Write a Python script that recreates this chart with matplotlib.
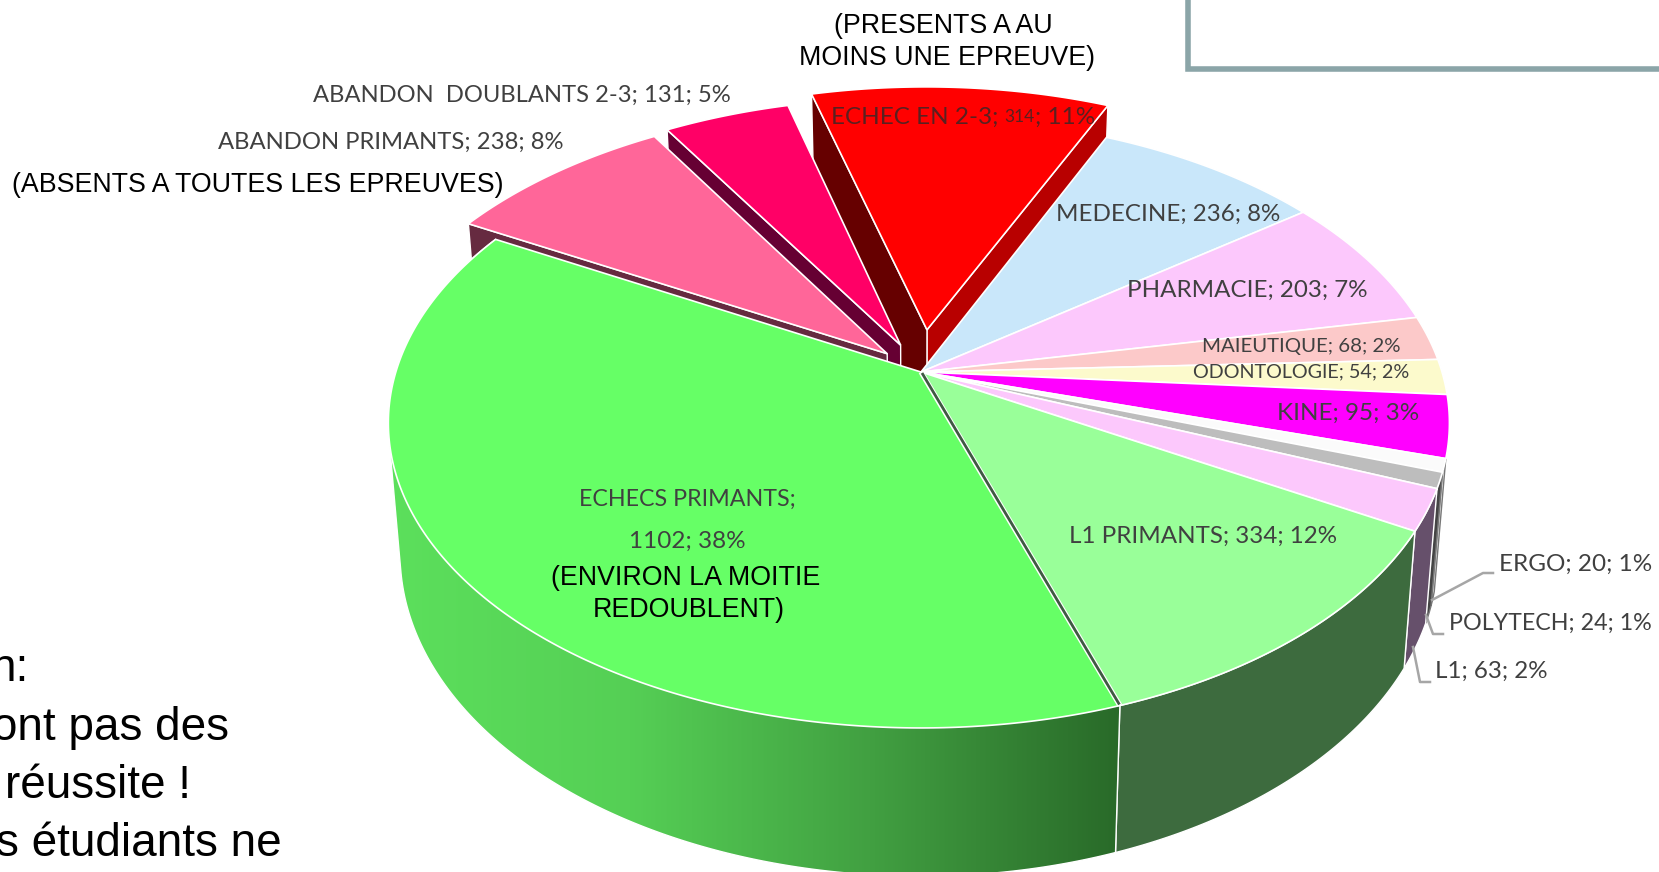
from __future__ import annotations

import matplotlib
import numpy as np
from matplotlib.colors import LinearSegmentedColormap
from matplotlib.patches import Polygon, Rectangle

matplotlib.use("Agg")
import matplotlib.pyplot as plt

# clockwise from the top-left edge of the red slice
NAMES = [
    "ECHEC EN 2-3", "MEDECINE", "PHARMACIE", "MAIEUTIQUE", "ODONTOLOGIE", "KINE", "ERGO",
    "POLYTECH", "L1", "L1 PRIMANTS", "ECHECS PRIMANTS", "ABANDON PRIMANTS", "ABANDON  DOUBLANTS 2-3",
]
VALUES = [314, 236, 203, 68, 54, 95, 20, 24, 63, 334, 1102, 238, 131]
PERCENTS = [11, 8, 7, 2, 2, 3, 1, 1, 2, 12, 38, 8, 5]
EXPLODE = [0.146, 0, 0, 0, 0, 0, 0, 0, 0, 0, 0, 0.09, 0.10]

TOP_COLORS = [
    "#ff0000", "#c9e7fa", "#fcc8fc", "#fcc9c9", "#fcfacc", "#ff00ff", "#fbfbfb",
    "#bdbdbd", "#fcc8fc", "#99ff99", "#66ff66", "#ff6699", "#ff0066",
]
WALL_COLORS = [
    "#b80000", "#c9e7fa", "#fcc8fc", "#fcc9c9", "#fcfacc", "#ff00ff", "#e8e8e8",
    "#444444", "#66506b", "#3d6b3e", "#3d6b3e", "#662a40", "#660033",
]
RED_LEFT_WALL = "#660000"

# pie geometry, in pixels of the reference
CX, CY, RX, RY, PERSP = 921.0, 372.0, 521.0, 296.5, 0.167
LEFT_STRETCH = 1.008
START_DEG = -15.0
WALL_X_SCALE, WALL_BASE, WALL_SLOPE = 0.978, 128.0, 0.057

NARROW = ["Lato", "Liberation Sans"]
ARIAL = ["Liberation Sans"]


def project(wx, wy):
    w = 1.0 + PERSP * wy
    stretch = np.where(np.asarray(wx) < 0, LEFT_STRETCH, 1.0)
    return CX + RX * stretch * wx / w, CY - RY * wy / w


def drop(x, y):
    return CX + WALL_X_SCALE * (x - CX), y + WALL_BASE + WALL_SLOPE * (y - CY)


def wedge_world(a0, a1, explode):
    mid = np.radians((a0 + a1) / 2)
    angles = np.radians(np.linspace(a0, a1, max(int(a1 - a0) * 2, 8)))
    ox, oy = explode * np.sin(mid), explode * np.cos(mid)
    return np.sin(angles) + ox, np.cos(angles) + oy, ox, oy


def convex_hull(pts):
    pts = sorted(map(tuple, pts))

    def half(seq):
        out = []
        for p in seq:
            while len(out) > 1 and (out[-1][0] - out[-2][0]) * (p[1] - out[-2][1]) - (out[-1][1] - out[-2][1]) * (p[0] - out[-2][0]) <= 0:
                out.pop()
            out.append(p)
        return out[:-1]

    return np.array(half(pts) + half(pts[::-1]))


def add_wall(ax, xs, ys, color, z, edge="white", hull=False):
    xb, yb = drop(xs, ys)
    pts = np.column_stack([np.r_[xs, xb[::-1]], np.r_[ys, yb[::-1]]])
    if hull:
        pts = convex_hull(pts)
    patch = Polygon(pts, closed=True, facecolor=color, edgecolor=edge, linewidth=1.0, zorder=z)
    ax.add_patch(patch)
    return patch


def draw_slice(ax, i, a0, a1, z):
    ex = EXPLODE[i]
    wx, wy, ox, oy = wedge_world(a0, a1, ex)
    x, y = project(wx, wy)
    ax_, ay_ = project(ox, oy)
    if ex > 0:
        # only the radial walls that face the viewer
        lx, ly = np.array([ax_, x[0]]), np.array([ay_, y[0]])
        rx, ry = np.array([ax_, x[-1]]), np.array([ay_, y[-1]])
        if np.cos(np.radians(a1 + 90)) < 0:
            add_wall(ax, rx, ry, WALL_COLORS[i], z)
        if np.cos(np.radians(a0 - 90)) < 0:
            add_wall(ax, lx, ly, RED_LEFT_WALL if i == 0 else WALL_COLORS[i], z)
    pts = np.column_stack([np.r_[ax_, x], np.r_[ay_, y]])
    ax.add_patch(Polygon(pts, closed=True, facecolor=TOP_COLORS[i], edgecolor="white", linewidth=1.2, zorder=z + 0.5))


def label(ax, x, y, s, size, ha="center", color="#404040", family=None, width=None):
    t = ax.text(x, y + 2, s, fontsize=size, ha=ha, va="center", color=color, family=family or NARROW, zorder=30)
    if width is not None:
        # match the width of the squeezed label in the source
        extent = t.get_window_extent(ax.figure.canvas.get_renderer())
        t.set_fontsize(size * width / extent.width)
    return t


def main() -> None:
    fig = plt.figure(figsize=(16.59, 8.72), dpi=100, facecolor="white")
    ax = fig.add_axes([0, 0, 1, 1])
    ax.set_xlim(0, 1659)
    ax.set_ylim(872, 0)
    ax.set_axis_off()

    edges = START_DEG + np.r_[0, np.cumsum(VALUES)] / np.sum(VALUES) * 360.0

    # exploded slices first, the rest of the pie hides their walls
    for z, i in zip((2, 3, 4), (0, 12, 11)):
        draw_slice(ax, i, edges[i], edges[i + 1], z)

    # outer walls of the main body, back to front
    for z, i in zip((6, 7, 8, 9), (6, 7, 8, 9)):
        wx, wy, _, _ = wedge_world(edges[i], edges[i + 1], 0.0)
        add_wall(ax, *project(wx, wy), WALL_COLORS[i], z, edge="white" if i in (8, 9) else "#777777")

    # the big green wall has a horizontal shading
    wx, wy, _, _ = wedge_world(edges[10], edges[11], 0.0)
    patch = add_wall(ax, *project(wx, wy), "none", 10, hull=True)
    shade = LinearSegmentedColormap.from_list("wall", ["#5ce05c", "#55cf55", "#419f41", "#296a29"])
    im = ax.imshow(np.linspace(0, 1, 256)[None, :], extent=(385, 1120, 880, 400), aspect="auto", cmap=shade, zorder=9.5)
    im.set_clip_path(patch)
    ax.set_xlim(0, 1659)
    ax.set_ylim(872, 0)

    for i in range(1, 11):
        draw_slice(ax, i, edges[i], edges[i + 1], 11)

    # thin dark wall showing between green and L1 PRIMANTS
    ang = np.radians(edges[10])
    tx, ty = project(np.sin(ang), np.cos(ang))
    ax.plot([CX, tx], [CY, ty], color="white", lw=3.8, zorder=12, solid_capstyle="butt")
    ax.plot([CX + 1, tx - 0.5], [CY + 1, ty - 1], color="#3f5a42", lw=2.0, zorder=12.5, solid_capstyle="butt")

    # box corner at the top right, belongs to the slide
    ax.add_patch(Rectangle((1188, -20), 500, 89, facecolor="white", edgecolor="#8ba5a8", linewidth=4, zorder=1))

    # leader lines
    for xs, ys in (
        ([1432, 1483, 1493], [600, 573, 573]),
        ([1426, 1433, 1443], [615, 634, 634]),
        ([1413, 1420, 1430], [647, 682, 682]),
    ):
        ax.plot(xs, ys, color="#a6a6a6", lw=1.8, zorder=20)

    text = [f"{n}; {v}; {p}%" for n, v, p in zip(NAMES, VALUES, PERCENTS)]
    label(ax, 1168, 212, text[1], 20, width=224)
    label(ax, 1247, 288, text[2], 20, width=240)
    label(ax, 1301, 344, text[3], 17, width=199)
    label(ax, 1301, 370, text[4], 17, width=218)
    label(ax, 1348, 411, text[5], 20, width=142)
    label(ax, 1499, 562, text[6], 18, ha="left", width=153)
    label(ax, 1449, 621, text[7], 18, ha="left", width=203)
    label(ax, 1435, 669, text[8], 18, ha="left", width=113)
    label(ax, 1203, 534, text[9], 20, width=267)
    label(ax, 687, 497, f"{NAMES[10]};", 20, width=217)
    label(ax, 687, 539, f"{VALUES[10]}; {PERCENTS[10]}%", 20, width=116)
    label(ax, 391, 140, text[11], 20, width=346)
    label(ax, 522, 93, text[12], 20, width=416)

    # the 314 is smaller in the source chart
    renderer = fig.canvas.get_renderer()
    x = 831.0
    parts = ((f"{NAMES[0]}; ", 17.5), (f"{VALUES[0]}", 12.5), (f"; {PERCENTS[0]}%", 17.5))
    for part, size in parts:
        t = ax.text(x, 117, part, fontsize=size, ha="left", va="center", color="#5a2020", family=NARROW, zorder=30)
        x = t.get_window_extent(renderer).x1

    black = "#000000"
    label(ax, 258, 183, "(ABSENTS A TOUTES LES EPREUVES)", 19.3, color=black, family=ARIAL)
    label(ax, 943, 24, "(PRESENTS A AU", 19.3, color=black, family=ARIAL)
    label(ax, 947, 56, "MOINS UNE EPREUVE)", 19.3, color=black, family=ARIAL)
    label(ax, 686, 576, "(ENVIRON LA MOITIE", 19.3, color=black, family=ARIAL)
    label(ax, 689, 608, "REDOUBLENT)", 19.3, color=black, family=ARIAL)

    # slide text cut by the left border
    for s, x, y in (
        ("n:", 28, 667),
        ("ont pas des", 229, 726),
        ("réussite !", 191, 784),
        ("s étudiants ne", 282, 842),
    ):
        label(ax, x, y, s, 33, ha="right", color=black, family=ARIAL)

    fig.savefig("out.png", dpi=100, facecolor="white")
    plt.close(fig)


if __name__ == "__main__":
    main()
